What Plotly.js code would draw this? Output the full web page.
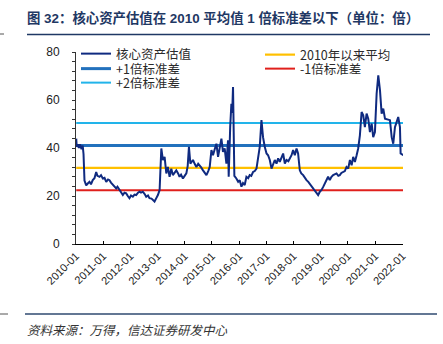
<!DOCTYPE html>
<html>
<head>
<meta charset="utf-8">
<script src="https://cdn.plot.ly/plotly-3.0.1.min.js"></script>
<style>html,body{margin:0;padding:0;background:#fff;}#chart{width:443px;height:344px;}</style>
</head>
<body>
<div id="chart"></div>
<script>
// ---- data ----
const dates = [
"2010-01-04","2010-01-11","2010-01-27","2010-02-10","2010-02-24","2010-03-16","2010-04-01","2010-04-12","2010-04-25","2010-05-18",
"2010-06-08","2010-07-01","2010-07-21","2010-08-14","2010-09-06","2010-09-29","2010-10-16","2010-11-13","2010-12-03","2010-12-27",
"2011-01-19","2011-02-11","2011-03-07","2011-03-27","2011-04-16","2011-05-10","2011-06-02","2011-06-25","2011-07-12","2011-08-08",
"2011-08-28","2011-09-22","2011-10-14","2011-11-06","2011-11-30","2011-12-20","2012-01-10","2012-02-03","2012-02-26","2012-03-19",
"2012-04-13","2012-05-03","2012-05-23","2012-06-16","2012-07-09","2012-08-01","2012-08-25","2012-09-14","2012-10-11","2012-11-21",
"2012-12-11","2013-01-05","2013-01-28","2013-02-13","2013-02-20","2013-03-13","2013-04-05","2013-04-28","2013-05-19","2013-06-11",
"2013-07-04","2013-07-25","2013-08-17","2013-09-09","2013-10-03","2013-10-23","2013-11-12","2013-12-07","2013-12-30","2014-01-22",
"2014-02-09","2014-02-26","2014-03-17","2014-04-21","2014-05-14","2014-06-06","2014-06-30","2014-07-20","2014-08-09","2014-09-03",
"2014-09-26","2014-10-19","2014-11-12","2014-12-02","2014-12-25","2015-01-15","2015-02-07","2015-03-02","2015-03-24","2015-04-15",
"2015-05-08","2015-05-29","2015-06-21","2015-07-14","2015-08-05","2015-08-14","2015-08-25","2015-09-03","2015-09-19","2015-09-30",
"2015-10-11","2015-10-20","2015-10-29","2015-11-25","2015-12-19","2016-01-09","2016-02-01","2016-02-22","2016-03-16","2016-04-08",
"2016-05-02","2016-05-22","2016-06-12","2016-07-06","2016-07-29","2016-08-21","2016-09-11","2016-10-04","2016-10-27","2016-11-17",
"2016-12-10","2017-01-03","2017-01-24","2017-02-16","2017-03-11","2017-04-01","2017-04-24","2017-05-17","2017-06-08","2017-06-30",
"2017-07-20","2017-08-14","2017-09-06","2017-09-28","2017-10-23","2017-11-12","2017-12-05","2017-12-26","2018-01-18","2018-02-10",
"2018-03-03","2018-03-26","2018-04-15","2018-05-10","2018-06-01","2018-06-24","2018-07-18","2018-08-07","2018-08-28","2018-09-21",
"2018-10-14","2018-11-05","2018-11-27","2018-12-20","2019-01-12","2019-02-05","2019-02-25","2019-03-17","2019-04-10","2019-05-03",
"2019-05-23","2019-06-17","2019-07-09","2019-08-01","2019-08-25","2019-09-14","2019-10-05","2019-10-29","2019-11-21","2019-12-13",
"2020-01-05","2020-01-28","2020-02-20","2020-03-12","2020-04-04","2020-04-27","2020-05-18","2020-06-10","2020-07-03","2020-07-25",
"2020-08-16","2020-09-08","2020-09-30","2020-10-23","2020-11-15","2020-12-06","2020-12-29","2021-01-21","2021-02-12","2021-03-07",
"2021-03-29","2021-04-20","2021-05-13","2021-07-19","2021-08-11","2021-09-01","2021-09-24","2021-10-17","2021-11-07","2021-11-30",
"2021-12-09","2022-01-14"
];
const coreValuation = [
43.9,40.5,41.5,40,41.5,39.5,41,37.5,26.4,24.4,
25.2,25.9,24.9,26.6,27.4,30,28.4,28,28.7,27.3,
27.6,25.9,26.9,26.6,25.6,24.6,23.9,23.2,23.9,22.5,
21.9,20.4,21.4,21.1,19.9,19.1,20.2,19.7,20.6,20.4,
21.4,21.8,21.4,21.8,20.9,19.7,20.2,19.1,18.9,17.7,
18.9,20.4,22.5,37.5,39.8,35,36.3,29.4,32.1,28,
31.4,28.7,29.9,30.7,29.4,28,28.9,27.3,28.4,29.4,
32.4,40.5,33.5,35,33.4,32.1,33.4,32.8,31.9,30.7,
29.9,28.7,30.4,32.1,39.1,37,39.5,41.8,36.3,40.4,
43.9,38.4,39.8,33.5,43.2,28,44.5,48.7,58.4,54.6,
65.4,50.2,28.4,27.3,25.9,26.6,23.9,25.4,24.6,28,
27.4,28.7,28.4,30,30.4,31.4,37,40.5,51.6,44.5,
40.5,37.7,37,35,31.4,33.5,35,33.5,35.7,34.2,
35.5,37.7,33.5,35,34.5,35.7,37,39.1,37,39.8,
37.7,30.7,29.4,28.7,27.4,26.6,25.9,25.2,24.2,23.2,
22.2,21.1,20.4,21.8,22.5,23.9,25.2,26.4,28,26.6,
27.9,28.7,28.9,29.4,28.4,28.7,29.6,30,30.4,32.1,
31.4,35,32.8,36.3,34.2,37,39.8,45.3,55,53.6,
48.7,54.3,52.2,46.6,50.2,44.5,46.6,62.7,70.3,64,
54.3,56.4,52.2,51.6,44.5,41.8,48.7,50.9,52.9,48.7,
37.7,37
];
const refDates = ["2010-01-04","2022-01-14"];
const meanLevel = 31.7;     // 2010年以来平均
const plus1Level = 41.05;   // +1倍标准差
const minus1Level = 22.35;  // -1倍标准差
const plus2Level = 50.4;    // +2倍标准差

const names = {
  core: "核心资产估值", mean: "2010年以来平均", p1: "+1倍标准差", m1: "-1倍标准差", p2: "+2倍标准差"
};
const titleText = "图 32：核心资产估值在 2010 平均值 1 倍标准差以下（单位：倍）";
const sourceText = "资料来源：万得，信达证券研发中心";

// ---- layout geometry ----
const W = 443, H = 344, L = 76, R = 40, T = 52, B = 100;
const PW = W - L - R, PH = H - T - B;
const px = x => (x - L) / PW;
const py = y => (H - B - y) / PH;
const cx = x => x / W;
const cy = y => 1 - y / H;

const cjk = '"Noto Sans CJK SC", "Liberation Sans", sans-serif';
const lat = '"Liberation Sans", Arial, "Noto Sans CJK SC", sans-serif';

function flat(level) { return [level, level]; }

const traces = [
  {x: refDates, y: flat(plus2Level), name: names.p2, mode: 'lines', line: {color: '#22b4ea', width: 2}, legend: 'legend3'},
  {x: refDates, y: flat(plus1Level), name: names.p1, mode: 'lines', line: {color: '#2271bd', width: 3}, legend: 'legend2'},
  {x: refDates, y: flat(meanLevel), name: names.mean, mode: 'lines', line: {color: '#ffc000', width: 2.2}, legend: 'legend4'},
  {x: refDates, y: flat(minus1Level), name: names.m1, mode: 'lines', line: {color: '#e0201c', width: 2}, legend: 'legend5'},
  {x: dates, y: coreValuation, name: names.core, mode: 'lines', line: {color: '#0f2a80', width: 2}, legend: 'legend'}
];

function leg(x, y) {
  return {x: px(x), y: py(y), xref: 'paper', yref: 'paper', xanchor: 'left', yanchor: 'middle',
    bgcolor: 'rgba(0,0,0,0)', borderwidth: 0, font: {family: cjk, size: 12.5, color: '#2a2a2a'}};
}

const layout = {
  width: W, height: H,
  margin: {l: L, r: R, t: T, b: B, autoexpand: false},
  paper_bgcolor: '#fff', plot_bgcolor: '#fff',
  showlegend: true,
  title: {text: '<b>' + titleText + '</b>', x: cx(27), xref: 'container', xanchor: 'left',
          y: cy(18), yref: 'container', yanchor: 'middle',
          font: {family: lat, size: 13.4, color: '#1f3864'}},
  xaxis: {
    type: 'date', range: ['2010-01-01', '2022-01-10'],
    tick0: '2010-01-01', dtick: 'M12', tickformat: '%Y-%m', tickangle: -45,
    ticks: 'inside', ticklen: 3, tickcolor: '#000',
    showline: true, linecolor: '#000', linewidth: 1.3,
    showgrid: false, zeroline: false,
    tickfont: {family: lat, size: 11, color: '#222'}
  },
  yaxis: {
    range: [0, 80], tick0: 0, dtick: 20,
    ticks: 'outside', ticklen: 3, tickcolor: '#333',
    minor: {dtick: 4, ticks: 'outside', ticklen: 3, tickcolor: '#333', showgrid: false},
    showline: true, linecolor: '#333', linewidth: 1,
    showgrid: false, zeroline: false, ticklabelstandoff: 10,
    tickfont: {family: lat, size: 12, color: '#222'}
  },
  legend: leg(76, 54),
  legend2: leg(76, 69),
  legend3: leg(76, 83),
  legend4: leg(260, 55),
  legend5: leg(260, 69),
  shapes: [
    {type: 'line', xref: 'paper', yref: 'paper', x0: px(27), x1: px(430), y0: py(34.5), y1: py(34.5), line: {color: '#1f3864', width: 1.6}},
    {type: 'line', xref: 'paper', yref: 'paper', x0: px(0), x1: px(4), y0: py(34), y1: py(34), line: {color: '#555', width: 1}},
    {type: 'line', xref: 'paper', yref: 'paper', x0: px(25), x1: px(437), y0: py(314), y1: py(314), line: {color: '#2f4a70', width: 1.3}},
    {type: 'line', xref: 'paper', yref: 'paper', x0: px(0), x1: px(8), y0: py(314), y1: py(314), line: {color: '#555', width: 1}}
  ],
  annotations: [
    {text: '<i>' + sourceText + '</i>', xref: 'paper', yref: 'paper', x: px(25), y: py(329), xanchor: 'left', yanchor: 'middle',
     showarrow: false, font: {family: cjk, size: 12.5, color: '#333'}}
  ]
};

Plotly.newPlot('chart', traces, layout, {displayModeBar: false, staticPlot: true});
</script>
</body>
</html>
